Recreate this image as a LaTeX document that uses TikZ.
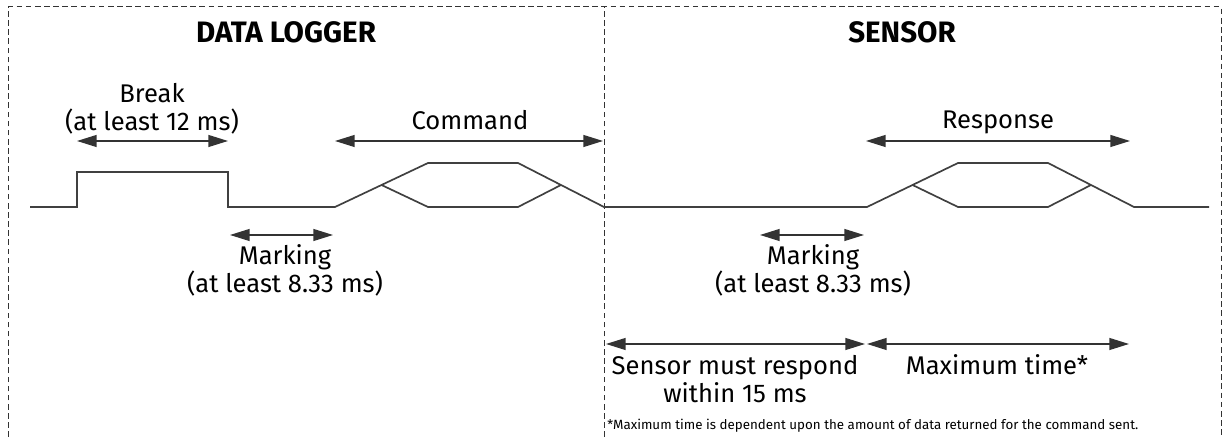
\documentclass[tikz,border=0pt]{standalone}
\usepackage{fontspec}
\setmainfont{Fira Sans}
\usetikzlibrary{arrows.meta}

\tikzset{
  boxline/.style={draw=black!80, line width=0.7pt, dash pattern=on 4pt off 2.5pt},
  signal/.style={draw=black!75, line width=1.2pt, line join=miter},
  span/.style={draw=black!80, line width=1pt, {Triangle[length=14pt,width=8.5pt]}-{Triangle[length=14pt,width=8.5pt]}},
  txt/.style={font=\fontsize{18.2}{20}\selectfont, align=center, inner sep=0pt},
  heading/.style={font=\fontsize{21}{24}\selectfont\bfseries, inner sep=0pt},
  note/.style={font=\fontsize{9.5}{11}\selectfont, anchor=west, inner sep=0pt}
}

\begin{document}
\begin{tikzpicture}
	\useasboundingbox (0,0) rectangle (30.575,10.925);

	% Dashed outline, split into logger and sensor side
	\draw[boxline] (0.2,0) -- (0.2,10.75) -- (30.525,10.75) -- (30.525,0);
	\draw[boxline] (15.1,0) -- (15.1,10.75);

	% Headings
	\node[heading] (logger) at (7.15,10.125) {DATA LOGGER};
	\node[heading] (sensor) at (22.55,10.125) {SENSOR};

	% Signal line
	\draw[signal] (0.75,5.75) -- (1.925,5.75) -- (1.925,6.625) -- (5.7,6.625) -- (5.7,5.75)
		-- (8.375,5.75) -- (10.7,6.85) -- (12.95,6.85) -- (15.1,5.75)
		-- (21.675,5.75) -- (23.95,6.85) -- (26.2,6.85) -- (28.35,5.75) -- (30.225,5.75);
	\draw[signal] (9.5375,6.3) -- (10.7,5.75) -- (12.95,5.75) -- (14.025,6.3);
	\draw[signal] (22.8125,6.3) -- (23.95,5.75) -- (26.2,5.75) -- (27.275,6.3);

	% Ends of the time spans
	\coordinate (brkL) at (1.925,7.4);
	\coordinate (brkR) at (5.7,7.4);
	\coordinate (cmdL) at (8.375,7.4);
	\coordinate (cmdR) at (15.075,7.4);
	\coordinate (respL) at (21.65,7.4);
	\coordinate (respR) at (28.25,7.4);
	\coordinate (markAL) at (5.75,5.05);
	\coordinate (markAR) at (8.325,5.05);
	\coordinate (markBL) at (19.0,5.05);
	\coordinate (markBR) at (21.6,5.05);
	\coordinate (waitL) at (15.15,2.325);
	\coordinate (waitR) at (21.625,2.325);
	\coordinate (maxL) at (21.675,2.325);
	\coordinate (maxR) at (28.225,2.325);

	\draw[span] (brkL) -- (brkR);
	\draw[span] (cmdL) -- (cmdR);
	\draw[span] (respL) -- (respR);
	\draw[span] (markAL) -- (markAR);
	\draw[span] (markBL) -- (markBR);
	\draw[span] (waitL) -- (waitR);
	\draw[span] (maxL) -- (maxR);

	% Span labels
	\node[txt] (brk) at (3.8,8.2) {Break\\(at least 12 ms)};
	\node[txt, text depth=0pt] (cmd) at (11.75,7.925) {Command};
	\node[txt, text depth=0pt] (resp) at (24.95,7.925) {Response};
	\node[txt] (markA) at (7.125,4.175) {Marking\\(at least 8.33 ms)};
	\node[txt] (markB) at (20.325,4.175) {Marking\\(at least 8.33 ms)};
	\node[txt] (wait) at (18.375,1.45) {Sensor must respond\\within 15 ms};
	\node[txt] (maxt) at (24.925,1.8) {Maximum time*};
	\node[note] (foot) at (15.175,0.27) {*Maximum time is dependent upon the amount of data returned for the command sent.};
\end{tikzpicture}
\end{document}
